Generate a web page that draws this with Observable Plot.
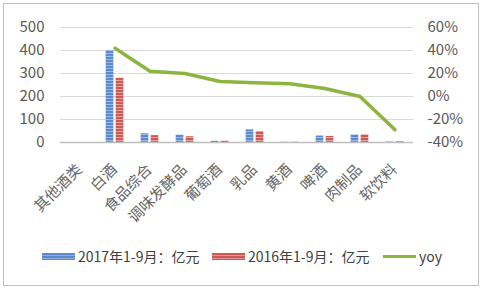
<!DOCTYPE html>
<html><head><meta charset="utf-8">
<script src="https://cdn.jsdelivr.net/npm/d3@7"></script>
<script src="https://cdn.jsdelivr.net/npm/@observablehq/plot@0.6"></script>
<style>
body{margin:0;background:#fff;font-family:"Noto Sans CJK SC","Noto Sans",sans-serif;}
#wrap{position:relative;width:485px;height:292px;overflow:hidden;}
#frame{position:absolute;left:3px;top:3px;width:476px;height:283px;border:1px solid #bfbfbf;box-sizing:border-box;}
#chart{position:absolute;left:0;top:0;}
#legend{position:absolute;left:0;top:246px;width:485px;height:20px;font-size:14px;color:#404040;}
.sw{display:inline-block;width:33px;height:7px;margin-right:3px;}
.item{display:flex;align-items:center;position:absolute;top:0;height:20px;}
</style></head>
<body>
<div id="wrap"><div id="frame"></div><div id="chart"></div>
<div id="legend">
<span class="item" style="left:42px"><span class="sw" style="background:repeating-linear-gradient(#5b8bcc 0 2px,#8fb0dd 2px 3px)"></span>2017年1-9月：亿元</span>
<span class="item" style="left:212px"><span class="sw" style="background:repeating-linear-gradient(#cc5a57 0 2px,#e29391 2px 3px)"></span>2016年1-9月：亿元</span>
<span class="item" style="left:383px"><span class="sw" style="height:3px;background:#8db43e"></span>yoy</span>
</div></div>
<script>
const categories = ["其他酒类","白酒","食品综合","调味发酵品","葡萄酒","乳品","黄酒","啤酒","肉制品","软饮料"];
const rev2017 = [0, 400, 38, 32, 6, 55, 1, 28, 33, 2];
const rev2016 = [0, 280, 30, 25, 6, 48, 1, 26, 33, 3];
const yoy = [null, 42, 22, 20, 13, 12, 11, 7, 0, -29];
const leftTicks = [0,100,200,300,400,500];
const rightTicks = [-40,-20,0,20,40,60];

const toLeft = p => (p + 40) * 5;
const rows = categories.map((c,i)=>({c, a:rev2017[i], b:rev2016[i], y: yoy[i]==null?null:toLeft(yoy[i])}));
const lineRows = rows.filter(d=>d.y!=null);

const W = 485, H = 240, mL = 60, mR = 72;
const bw = (W - mL - mR) / categories.length;
const half = bw/2;

const plot = Plot.plot({
  width: W, height: H,
  marginLeft: mL, marginRight: mR, marginTop: 27, marginBottom: H - 142,
  style: {fontFamily: '"Noto Sans CJK SC", sans-serif', color: "#595959", background: "transparent"},
  x: {domain: categories, padding: 0},
  y: {domain: [0, 500]},
  marks: [
    Plot.gridY(leftTicks, {stroke: "#d9d9d9", strokeOpacity: 1, strokeWidth: 1}),
    Plot.barY(rows, {x: "c", y: "a", fill: "url(#pb)", insetLeft: half - 9, insetRight: half + 1}),
    Plot.barY(rows, {x: "c", y: "b", fill: "url(#pr)", insetLeft: half + 1, insetRight: half - 9}),
    Plot.ruleY([0], {stroke: "#bfbfbf", strokeWidth: 1.5}),
    Plot.line(lineRows, {x: "c", y: "y", stroke: "#8db43e", strokeWidth: 3.5, strokeLinejoin: "round"}),
    Plot.axisY(leftTicks, {anchor: "left", tickSize: 0, tickPadding: 16, fontSize: 15, label: null, fill: "#595959"}),
    Plot.axisY(rightTicks.map(toLeft), {anchor: "right", tickSize: 0, tickPadding: 14, fontSize: 15, label: null, fill: "#595959",
      tickFormat: d => (d/5 - 40) + "%"}),
    Plot.axisX({tickSize: 0, tickRotate: -45, fontSize: 15, label: null, tickPadding: 6, dx: -0.5, dy: 18.5, fill: "#666", fontFamily: '"Noto Sans CJK SC", sans-serif'})
  ]
});
const ns = "http://www.w3.org/2000/svg";
const defs = document.createElementNS(ns, "defs");
defs.innerHTML = `
<pattern id="pb" width="4" height="3" patternUnits="userSpaceOnUse"><rect width="4" height="3" fill="#5b8bcc"/><rect y="2" width="4" height="1" fill="#9bb9e2"/></pattern>
<pattern id="pr" width="4" height="3" patternUnits="userSpaceOnUse"><rect width="4" height="3" fill="#cc5a57"/><rect y="2" width="4" height="1" fill="#e6a09e"/></pattern>`;
plot.insertBefore(defs, plot.firstChild);
document.getElementById("chart").appendChild(plot);
</script>
</body></html>
